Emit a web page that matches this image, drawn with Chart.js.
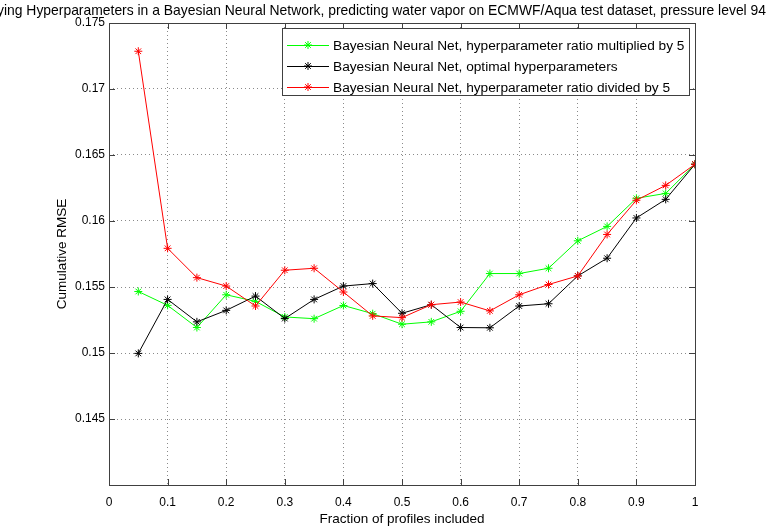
<!DOCTYPE html>
<html>
<head>
<meta charset="utf-8">
<script src="https://cdn.jsdelivr.net/npm/chart.js@4/dist/chart.umd.min.js"></script>
<style>
  html, body { margin: 0; padding: 0; background: #ffffff; }
  #wrap { width: 767px; height: 531px; position: relative; }
</style>
</head>
<body>
<div id="wrap"><canvas id="c" width="767" height="531"></canvas></div>
<script>
// ---- data ----
const fractions = [0.05, 0.10, 0.15, 0.20, 0.25, 0.30, 0.35, 0.40, 0.45, 0.50,
                   0.55, 0.60, 0.65, 0.70, 0.75, 0.80, 0.85, 0.90, 0.95, 1.00];
const rmseMultiplied = [0.15466, 0.15361, 0.15193, 0.15441, 0.15391, 0.15273, 0.15260, 0.15360, 0.15298, 0.15218,
                        0.15236, 0.15316, 0.15602, 0.15602, 0.15642, 0.15850, 0.15959, 0.16172, 0.16209, 0.16430];
const rmseOptimal    = [0.14997, 0.15406, 0.15236, 0.15323, 0.15431, 0.15261, 0.15406, 0.15507, 0.15526, 0.15301,
                        0.15366, 0.15193, 0.15191, 0.15356, 0.15373, 0.15584, 0.15718, 0.16023, 0.16164, 0.16430];
const rmseDivided    = [0.17286, 0.15793, 0.15571, 0.15507, 0.15356, 0.15627, 0.15642, 0.15462, 0.15281, 0.15268,
                        0.15366, 0.15386, 0.15319, 0.15441, 0.15519, 0.15584, 0.15898, 0.16157, 0.16270, 0.16430];
const seriesNames = ['Bayesian Neural Net, hyperparameter ratio multiplied by 5',
                     'Bayesian Neural Net, optimal hyperparameters',
                     'Bayesian Neural Net, hyperparameter ratio divided by 5'];
const xTickValues = [0, 0.1, 0.2, 0.3, 0.4, 0.5, 0.6, 0.7, 0.8, 0.9, 1];
const xTickLabels = ['0', '0.1', '0.2', '0.3', '0.4', '0.5', '0.6', '0.7', '0.8', '0.9', '1'];
const yTickValues = [0.145, 0.15, 0.155, 0.16, 0.165, 0.17, 0.175];
const yTickLabels = ['0.145', '0.15', '0.155', '0.16', '0.165', '0.17', '0.175'];
const titleText = 'Varying Hyperparameters in a Bayesian Neural Network, predicting water vapor on ECMWF/Aqua test dataset, pressure level 94';
const xTitle = 'Fraction of profiles included';
const yTitle = 'Cumulative RMSE';

// ---- styles ----
const FONT = '"Liberation Sans", Arial, Helvetica, sans-serif';
const seriesColors = ['#00ff00', '#000000', '#ff0000'];
const axisColor = '#404040';

const toPoints = arr => arr.map((v, i) => ({ x: fractions[i], y: v }));

const boxAndTicks = {
  id: 'boxAndTicks',
  afterDatasetsDraw(chart) {
    const { ctx, chartArea: a, scales } = chart;
    ctx.save();
    ctx.strokeStyle = axisColor;
    ctx.lineWidth = 1;
    ctx.beginPath();
    const L = 6;
    xTickValues.forEach(v => {
      const px = Math.round(scales.x.getPixelForValue(v)) + 0.5;
      ctx.moveTo(px, a.bottom); ctx.lineTo(px, a.bottom - L);
      ctx.moveTo(px, a.top); ctx.lineTo(px, a.top + L);
    });
    yTickValues.forEach(v => {
      const py = Math.round(scales.y.getPixelForValue(v)) + 0.5;
      ctx.moveTo(a.left, py); ctx.lineTo(a.left + L, py);
      ctx.moveTo(a.right, py); ctx.lineTo(a.right - L, py);
    });
    ctx.stroke();
    ctx.strokeRect(Math.round(a.left) + 0.5, Math.round(a.top) + 0.5,
                   Math.round(a.right - a.left), Math.round(a.bottom - a.top));
    ctx.restore();
  },
  afterDraw(chart) {
    const { ctx } = chart;
    // title
    ctx.save();
    ctx.fillStyle = '#000';
    ctx.font = '13.9px ' + FONT;
    ctx.textAlign = 'right';
    ctx.textBaseline = 'middle';
    ctx.fillText(titleText, 766, 11);
    // legend
    const bx = 282.5, by = 28.5, bw = 407, bh = 67;
    ctx.fillStyle = '#ffffff';
    ctx.fillRect(bx, by, bw, bh);
    ctx.strokeStyle = axisColor;
    ctx.lineWidth = 1;
    ctx.strokeRect(bx, by, bw, bh);
    const rows = [45, 66, 87];
    seriesNames.forEach((name, i) => {
      const y = rows[i];
      ctx.strokeStyle = seriesColors[i];
      ctx.lineWidth = 1;
      ctx.beginPath();
      ctx.moveTo(287, y + 0.5); ctx.lineTo(329, y + 0.5);
      ctx.stroke();
      Chart.helpers.drawPoint(ctx, { pointStyle: 'star', radius: 4, rotation: 0, borderWidth: 1 }, 308, y);
      ctx.fillStyle = '#000';
      ctx.font = '13.7px ' + FONT;
      ctx.textAlign = 'left';
      ctx.textBaseline = 'middle';
      ctx.fillText(name, 333, y + 1);
    });
    ctx.restore();
  }
};

const mkDataset = (i, arr, order) => ({
  label: seriesNames[i],
  data: toPoints(arr),
  borderColor: seriesColors[i],
  backgroundColor: seriesColors[i],
  borderWidth: 1,
  pointStyle: 'star',
  pointRadius: 4,
  pointBorderWidth: 1,
  pointBorderColor: seriesColors[i],
  tension: 0,
  fill: false,
  order: order
});

new Chart(document.getElementById('c'), {
  type: 'line',
  data: {
    datasets: [
      mkDataset(0, rmseMultiplied, 2),
      mkDataset(1, rmseOptimal, 1),
      mkDataset(2, rmseDivided, 0)
    ]
  },
  options: {
    responsive: false,
    animation: false,
    devicePixelRatio: 1,
    layout: { padding: { top: 23, right: 72, left: 0, bottom: 0 } },
    plugins: {
      legend: { display: false },
      title: { display: false },
      tooltip: { enabled: false }
    },
    scales: {
      x: {
        type: 'linear',
        min: 0, max: 1,
        afterBuildTicks: s => { s.ticks = xTickValues.map(v => ({ value: v })); },
        afterFit: s => { s.height = 46; },
        ticks: {
          padding: 10,
          color: '#000',
          font: { family: FONT, size: 12 },
          maxRotation: 0,
          autoSkip: false,
          callback: (v) => xTickLabels[xTickValues.findIndex(t => Math.abs(t - v) < 1e-9)]
        },
        grid: { color: '#8a8a8a', drawTicks: false, lineWidth: 1 },
        border: { display: false, dash: [1, 3] },
        title: { display: true, text: xTitle, color: '#000', font: { family: FONT, size: 13.5 }, padding: { top: 0, bottom: 4 } }
      },
      y: {
        type: 'linear',
        min: 0.14, max: 0.175,
        afterBuildTicks: s => { s.ticks = yTickValues.map(v => ({ value: v })); },
        afterFit: s => { s.width = 109; },
        ticks: {
          padding: 4,
          color: '#000',
          font: { family: FONT, size: 12 },
          autoSkip: false,
          callback: (v) => yTickLabels[yTickValues.findIndex(t => Math.abs(t - v) < 1e-9)]
        },
        grid: { color: '#8a8a8a', drawTicks: false, lineWidth: 1 },
        border: { display: false, dash: [1, 3] },
        title: { display: true, text: yTitle, color: '#000', font: { family: FONT, size: 13.5 }, padding: { top: 54, bottom: 0 } }
      }
    }
  },
  plugins: [boxAndTicks]
});
</script>
</body>
</html>
